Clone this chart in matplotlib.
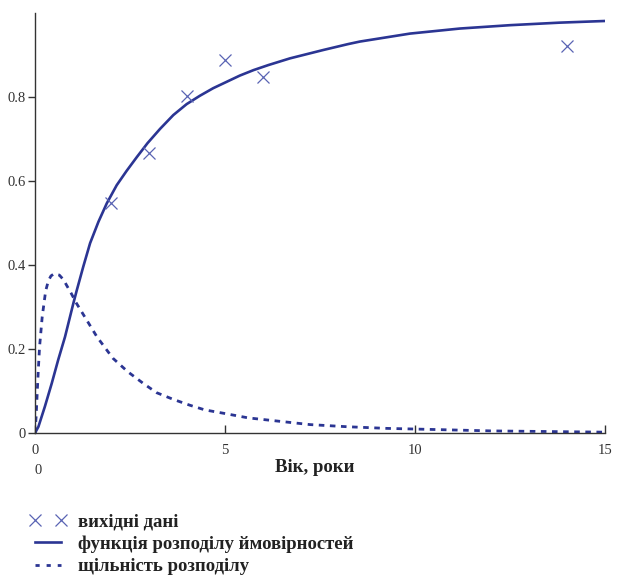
import matplotlib.pyplot as plt
from matplotlib.lines import Line2D

plt.rcParams['font.family'] = ['Liberation Serif', 'DejaVu Serif']

# вихідні дані (вік, частка)
age_obs = [2, 3, 4, 5, 6, 14]
share_obs = [0.548, 0.667, 0.803, 0.887, 0.847, 0.921]

# функція розподілу ймовірностей
cdf_x = [0, 0.09, 0.26, 0.44, 0.61, 0.79, 1.01, 1.10, 1.27, 1.45, 1.67, 1.89, 2.15,
         2.41, 2.68, 2.96, 3.29, 3.64, 3.99, 4.34, 4.69, 5.04, 5.39, 5.75, 6.14,
         6.71, 7.59, 8.24, 8.55, 9.87, 11.18, 12.5, 13.8, 15.0]
cdf_y = [0, 0.015, 0.063, 0.118, 0.174, 0.229, 0.309, 0.340, 0.396, 0.452, 0.503,
         0.547, 0.590, 0.624, 0.657, 0.690, 0.724, 0.757, 0.783, 0.803, 0.821, 0.836,
         0.851, 0.864, 0.876, 0.892, 0.912, 0.926, 0.932, 0.951, 0.963, 0.971,
         0.977, 0.981]

# щільність розподілу
pdf_x = [0, 0.03, 0.06, 0.09, 0.12, 0.19, 0.28, 0.35, 0.42, 0.50, 0.64, 0.75, 0.83,
         0.95, 1.09, 1.36, 1.63, 2.05, 2.44, 2.85, 3.2, 3.64, 4.08, 4.47, 4.96, 5.61,
         6.32, 7.24, 8.2, 9.25, 10.2, 12.0, 15.0]
pdf_y = [0, 0.04, 0.10, 0.155, 0.205, 0.277, 0.338, 0.362, 0.374, 0.379, 0.376,
         0.365, 0.352, 0.333, 0.309, 0.269, 0.229, 0.178, 0.146, 0.118, 0.096, 0.080,
         0.066, 0.055, 0.047, 0.036, 0.029, 0.020, 0.015, 0.011, 0.009, 0.005, 0.002]

x_ticks = [0, 5, 10, 15]
y_ticks = [0, 0.2, 0.4, 0.6, 0.8]

line_color = '#2b3593'
mark_color = '#5a64b4'

fig = plt.figure(figsize=(6.19, 5.75), dpi=100)
ax = fig.add_axes([35 / 619, 142 / 575, 570 / 619, 420 / 575])

ax.plot(cdf_x, cdf_y, color=line_color, lw=1.9, solid_joinstyle='round')
ax.plot(pdf_x, pdf_y, color=line_color, lw=2.0, linestyle=(0, (2.0, 2.0)))
ax.plot(age_obs, share_obs, linestyle='none', marker='x', ms=9, mew=0.9,
        color=mark_color)

ax.set_xlim(0, 15)
ax.set_ylim(0, 1.0)
ax.set_xticks(x_ticks)
ax.set_xticklabels([str(v) for v in x_ticks])
ax.set_yticks(y_ticks)
ax.set_yticklabels(['0', '0.2', '0.4', '0.6', '0.8'])

for side in ['top', 'right']:
    ax.spines[side].set_visible(False)
for side in ['left', 'bottom']:
    ax.spines[side].set_color('#333333')
    ax.spines[side].set_linewidth(1.0)

ax.tick_params(axis='x', direction='in', length=6, width=1, pad=8,
               labelsize=10.5, colors='#333333')
ax.tick_params(axis='y', direction='out', length=5, width=1, pad=2,
               labelsize=10.5, colors='#333333')

# підпис осі та нижня межа діапазону
fig.text(38 / 619, 1 - 470 / 575, '0', fontsize=10.5, color='#333333',
         ha='center', va='center')
fig.text(315 / 619, 1 - 467 / 575, 'Вік, роки', fontsize=13.5, fontweight='bold',
         color='#222222', ha='center', va='center')

handles = [
    Line2D([], [], linestyle='none', marker='x', ms=9, mew=0.9, color=mark_color),
    Line2D([], [], color=line_color, lw=1.9),
    Line2D([], [], color=line_color, lw=2.0, linestyle=(0, (1.5, 2.5))),
]
labels = ['вихідні дані', 'функція розподілу ймовірностей', 'щільність розподілу']
fig.legend(handles, labels, loc='upper left', bbox_to_anchor=(29 / 619, 1 - 513 / 575),
           frameon=False, numpoints=2, handlelength=2.0, handletextpad=0.6,
           labelspacing=0.28, borderpad=0, borderaxespad=0,
           prop={'size': 13.5, 'weight': 'bold'}, labelcolor='#222222')

fig.savefig('out.png', dpi=100)
